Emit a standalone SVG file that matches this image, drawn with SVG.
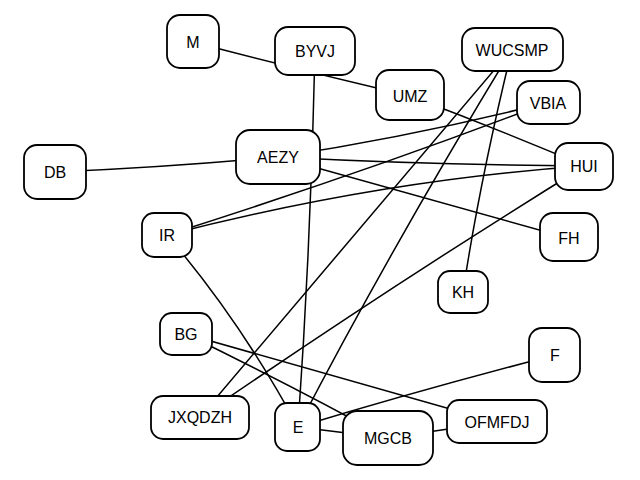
<svg xmlns="http://www.w3.org/2000/svg" width="640" height="480" viewBox="0 0 640 480">
<style>
.n rect{fill:#fff;stroke:#000;stroke-width:1.8}
.n text{font-family:"Liberation Sans",Arial,sans-serif;font-size:16px;fill:#000;text-anchor:middle;dominant-baseline:central}
#edges path{fill:none;stroke:#000;stroke-width:1.5;stroke-linecap:round}
</style>
<rect width="640" height="480" fill="#fff"/>
<g id="edges">
<path d="M193,42 Q300,70 410,96"/>
<path d="M315,51 Q311,240 298,427"/>
<path d="M55,172 Q170,167 278,157"/>
<path d="M278,157 Q420,135 549,102"/>
<path d="M278,157 Q430,165 585,166"/>
<path d="M278,157 Q430,200 568,238"/>
<path d="M167,235 Q369,171 549,102"/>
<path d="M167,235 Q380,180 585,166"/>
<path d="M410,96 Q500,130 585,166"/>
<path d="M512,49 Q350,240 200,417"/>
<path d="M512,49 Q390,250 298,427"/>
<path d="M512,49 Q480,180 463,292"/>
<path d="M585,166 Q400,280 200,417"/>
<path d="M167,235 Q240,320 298,427"/>
<path d="M186,334 Q350,380 496,422"/>
<path d="M186,334 Q300,390 387,438"/>
<path d="M555,355 Q420,390 298,427"/>
<path d="M298,427 L387,438"/>
<path d="M387,438 L496,422"/>
</g>
<g id="M" class="n"><rect x="167" y="15" width="52" height="53" rx="13"/><text x="193" y="42">M</text></g>
<g id="BYVJ" class="n"><rect x="275" y="27" width="80" height="48" rx="13"/><text x="315" y="51">BYVJ</text></g>
<g id="WUCSMP" class="n"><rect x="462" y="28" width="101" height="43" rx="13"/><text x="512" y="50">WUCSMP</text></g>
<g id="UMZ" class="n"><rect x="376" y="70" width="68" height="50" rx="13"/><text x="410" y="96">UMZ</text></g>
<g id="VBIA" class="n"><rect x="517" y="81" width="63" height="43" rx="13"/><text x="548" y="103">VBIA</text></g>
<g id="DB" class="n"><rect x="24" y="145" width="62" height="54" rx="13"/><text x="55" y="172">DB</text></g>
<g id="AEZY" class="n"><rect x="236" y="130" width="84" height="54" rx="14"/><text x="278" y="157">AEZY</text></g>
<g id="HUI" class="n"><rect x="555" y="143" width="58" height="47" rx="13"/><text x="584" y="166">HUI</text></g>
<g id="IR" class="n"><rect x="142" y="213" width="50" height="44" rx="12"/><text x="167" y="235">IR</text></g>
<g id="FH" class="n"><rect x="540" y="213" width="58" height="48" rx="13"/><text x="569" y="238">FH</text></g>
<g id="KH" class="n"><rect x="438" y="271" width="50" height="42" rx="12"/><text x="463" y="292">KH</text></g>
<g id="BG" class="n"><rect x="160" y="313" width="52" height="42" rx="12"/><text x="186" y="334">BG</text></g>
<g id="F" class="n"><rect x="529" y="328" width="51" height="54" rx="13"/><text x="555" y="355">F</text></g>
<g id="JXQDZH" class="n"><rect x="151" y="396" width="98" height="43" rx="12"/><text x="200" y="417">JXQDZH</text></g>
<g id="E" class="n"><rect x="275" y="403" width="45" height="48" rx="12"/><text x="298" y="427">E</text></g>
<g id="MGCB" class="n"><rect x="343" y="411" width="90" height="54" rx="14"/><text x="388" y="438">MGCB</text></g>
<g id="OFMFDJ" class="n"><rect x="447" y="400" width="100" height="43" rx="12"/><text x="497" y="422">OFMFDJ</text></g>
</svg>
